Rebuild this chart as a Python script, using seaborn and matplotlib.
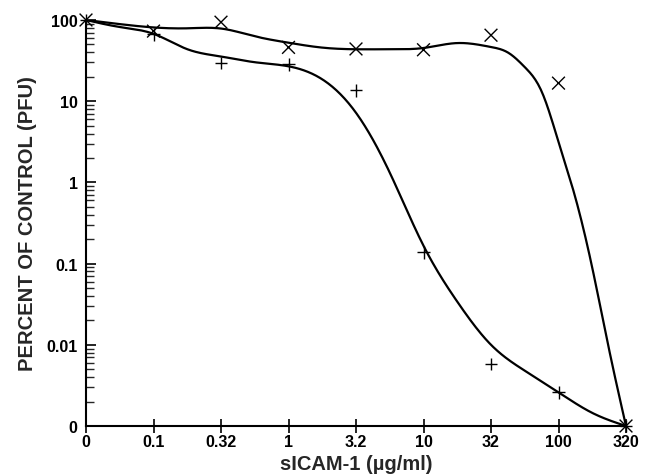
import numpy as np
import pandas as pd
import matplotlib
matplotlib.use("Agg")
import matplotlib.pyplot as plt
import matplotlib.ticker as mticker
import seaborn as sns

# sICAM-1 concentrations (ug/ml), shown as evenly spaced categories
conc_labels = ["0", "0.1", "0.32", "1", "3.2", "10", "32", "100", "320"]

# measured points, percent of control (0 is drawn on the bottom line)
pfu_cross = [100, 73, 94, 46, 44, 43, 65, 16.7, 0]
pfu_plus = [100, 67, 29.5, 28.6, 13.7, 0.137, 0.0058, 0.0026, 0]

# fitted curves (position in category steps, percent)
fit_cross_pos = [0, 0.5, 1, 1.5, 2, 2.5, 3, 3.5, 4, 4.5, 5, 5.5, 6,
                 6.25, 6.5, 6.75, 7, 7.25, 7.5, 7.75, 8]
fit_cross_pct = [100, 89, 81, 79, 78.5, 63, 52.5, 45.7, 43.6, 43.6, 45.2, 52,
                 46.5, 39.8, 26.3, 13.2, 3.16, 0.65, 0.089, 0.0087, 0.001]
fit_plus_pos = [0, 0.5, 1, 1.5, 2, 2.5, 3, 3.5, 4, 4.5, 5, 5.5, 6, 6.5, 7, 7.5, 8]
fit_plus_pct = [100, 82, 67.6, 43.7, 35.5, 30.2, 26.9, 18.6, 7.2, 1.32, 0.166,
                0.034, 0.01, 0.0048, 0.0026, 0.00145, 0.001]

ZERO_FLOOR = 1e-3


def natural_spline(xk, yk, n=400):
    # smooth the curve through the knots (done in log space)
    xk = np.asarray(xk, float)
    yk = np.asarray(yk, float)
    m = len(xk)
    h = np.diff(xk)
    A = np.zeros((m, m))
    rhs = np.zeros(m)
    A[0, 0] = A[-1, -1] = 1
    for i in range(1, m - 1):
        A[i, i - 1] = h[i - 1]
        A[i, i] = 2 * (h[i - 1] + h[i])
        A[i, i + 1] = h[i]
        rhs[i] = 6 * ((yk[i + 1] - yk[i]) / h[i] - (yk[i] - yk[i - 1]) / h[i - 1])
    M = np.linalg.solve(A, rhs)
    xs = np.linspace(xk[0], xk[-1], n)
    j = np.clip(np.searchsorted(xk, xs, side="right") - 1, 0, m - 2)
    hj = h[j]
    a = xk[j + 1] - xs
    b = xs - xk[j]
    ys = (M[j] * a ** 3 / (6 * hj) + M[j + 1] * b ** 3 / (6 * hj)
          + (yk[j] / hj - M[j] * hj / 6) * a + (yk[j + 1] / hj - M[j + 1] * hj / 6) * b)
    return xs, ys


points = pd.DataFrame({
    "pos": list(range(len(conc_labels))) * 2,
    "pfu": [max(v, ZERO_FLOOR) for v in pfu_cross + pfu_plus],
    "series": ["x"] * len(pfu_cross) + ["+"] * len(pfu_plus),
})

curves = []
for name, px, py in [("x", fit_cross_pos, fit_cross_pct), ("+", fit_plus_pos, fit_plus_pct)]:
    xs, ys = natural_spline(px, np.log10(py))
    curves.append(pd.DataFrame({"pos": xs, "pfu": 10 ** ys, "series": name}))
curves = pd.concat(curves, ignore_index=True)

sns.set_style("ticks")
plt.rcParams["font.family"] = ["Liberation Sans", "DejaVu Sans"]
plt.rcParams["font.weight"] = "bold"

fig = plt.figure(figsize=(6.55, 4.77), dpi=100)
ax = fig.add_axes([86 / 655, 50 / 477, 540 / 655, 406 / 477])

sns.lineplot(data=curves, x="pos", y="pfu", units="series", estimator=None,
             color="black", linewidth=1.6, sort=True, legend=False, ax=ax)
sns.scatterplot(data=points, x="pos", y="pfu", style="series",
                markers={"x": "x", "+": "+"}, color="black", s=85,
                linewidth=1.0, legend=False, clip_on=False, zorder=5, ax=ax)

ax.set_yscale("log")
ax.set_ylim(ZERO_FLOOR, 100)
ax.set_xlim(0, 8)

ax.yaxis.set_major_locator(mticker.FixedLocator([1e-3, 1e-2, 1e-1, 1, 10, 100]))
ax.yaxis.set_major_formatter(mticker.FixedFormatter(["0", "0.01", "0.1", "1", "10", "100"]))
ax.yaxis.set_minor_locator(mticker.LogLocator(base=10, subs=np.arange(2, 10)))
ax.yaxis.set_minor_formatter(mticker.NullFormatter())

ax.set_xticks(range(len(conc_labels)))
ax.set_xticklabels(conc_labels)

ax.tick_params(axis="x", direction="inout", length=10, width=1.2, labelsize=11.5,
               pad=1, colors="black")
ax.tick_params(axis="y", which="major", direction="in", length=7, width=1.2,
               labelsize=11.5, pad=6, colors="black")
ax.tick_params(axis="y", which="minor", direction="in", length=6, width=1.0)

for side in ["top", "right"]:
    ax.spines[side].set_visible(False)
for side in ["left", "bottom"]:
    ax.spines[side].set_linewidth(1.5)
    ax.spines[side].set_color("black")

ax.set_xlabel("sICAM-1 (µg/ml)", fontsize=14.5, fontweight="bold")
ax.set_ylabel("PERCENT OF CONTROL (PFU)", fontsize=14.5, fontweight="bold")
ax.xaxis.set_label_coords(0.5, -0.069)
ax.yaxis.set_label_coords(-0.091, 0.5)

fig.savefig("out.png", dpi=100)
